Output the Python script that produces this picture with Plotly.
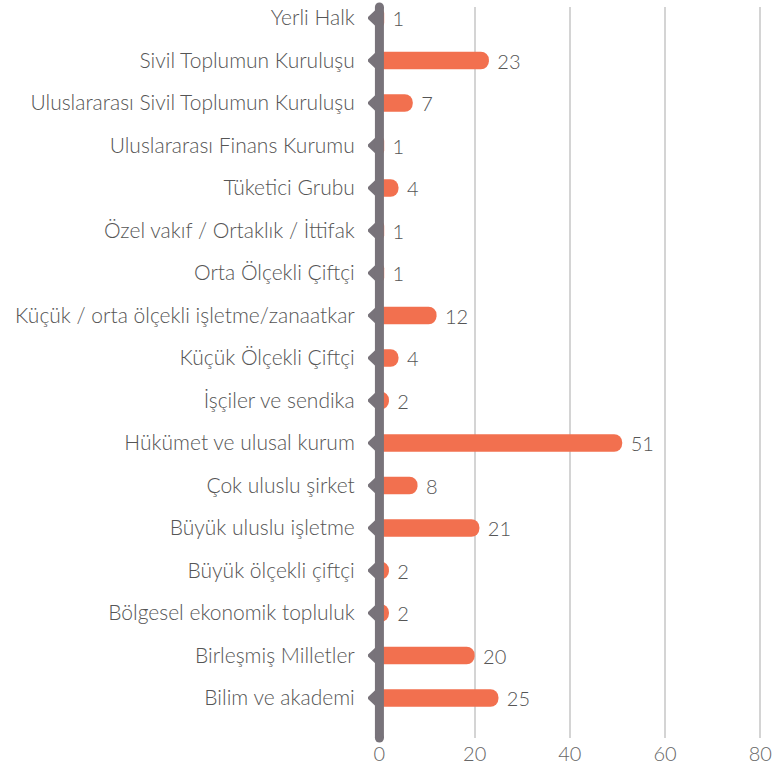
import plotly.graph_objects as go

categories = [
    "Yerli Halk",
    "Sivil Toplumun Kuruluşu",
    "Uluslararası Sivil Toplumun Kuruluşu",
    "Uluslararası Finans Kurumu",
    "Tüketici Grubu",
    "Özel vakıf / Ortaklık / İttifak",
    "Orta Ölçekli Çiftçi",
    "Küçük / orta ölçekli işletme/zanaatkar",
    "Küçük Ölçekli Çiftçi",
    "İşçiler ve sendika",
    "Hükümet ve ulusal kurum",
    "Çok uluslu şirket",
    "Büyük uluslu işletme",
    "Büyük ölçekli çiftçi",
    "Bölgesel ekonomik topluluk",
    "Birleşmiş Milletler",
    "Bilim ve akademi",
]
values = [1, 23, 7, 1, 4, 1, 1, 12, 4, 2, 51, 8, 21, 2, 2, 20, 25]
x_ticks = [0, 20, 40, 60, 80]

BAR = "#F2704F"
AXIS = "#78737a"
TXT = "#555555"
FONT = "Lato"

fig = go.Figure(
    go.Bar(
        x=values,
        y=categories,
        orientation="h",
        marker=dict(color=BAR, cornerradius=9, line=dict(width=0)),
        text=[str(v) for v in values],
        texttemplate=" %{text}",
        textposition="outside",
        constraintext="none",
        textfont=dict(family=FONT, size=20, color=TXT, weight=300),
        cliponaxis=False,
    )
)

shapes = []
for c in categories:
    shapes.append(dict(
        type="path", xref="x", yref="y",
        xsizemode="pixel", ysizemode="pixel", xanchor=0, yanchor=c,
        path="M -12.5,0 L -4.5,-7.5 L 3.5,0 L -4.5,7.5 Z",
        fillcolor=AXIS, line=dict(width=0), layer="above",
    ))
shapes.append(dict(
    type="rect", xref="x", yref="paper", xsizemode="pixel", xanchor=0,
    x0=-4.5, x1=4.5, y0=0, y1=1, fillcolor=AXIS, line=dict(width=0), layer="above",
))
for yy in (0, 1):
    shapes.append(dict(
        type="circle", xref="x", yref="paper", xsizemode="pixel", ysizemode="pixel",
        xanchor=0, yanchor=yy, x0=-4.5, x1=4.5, y0=-4.5, y1=4.5,
        fillcolor=AXIS, line=dict(width=0), layer="above",
    ))

fig.update_layout(
    width=776, height=776,
    margin=dict(l=368, r=6, t=7, b=38, autoexpand=False),
    paper_bgcolor="white", plot_bgcolor="white",
    bargap=0.585,
    showlegend=False,
    shapes=shapes,
    font=dict(family=FONT, color=TXT, weight=300),
    xaxis=dict(
        range=[-2.4, 82.05], tickvals=x_ticks, ticktext=[str(t) for t in x_ticks],
        showgrid=True, gridcolor="#d4d4d4", gridwidth=1.5, zeroline=False,
        showline=False, ticks="", automargin=False,
        tickfont=dict(family=FONT, size=20, color="#666666", weight=300),
        ticklabelstandoff=2,
    ),
    yaxis=dict(
        categoryorder="array", categoryarray=categories,
        range=[16.94, -0.26], showgrid=False, zeroline=False, showline=False,
        ticks="outside", ticklen=8, tickcolor="rgba(0,0,0,0)", automargin=False,
        tickfont=dict(family=FONT, size=21, color=TXT, weight=300),
    ),
)

fig.write_html(
    "out.html",
    config={"displayModeBar": False},
    post_script="document.body.style.margin='0';document.body.style.overflow='hidden';",
)
